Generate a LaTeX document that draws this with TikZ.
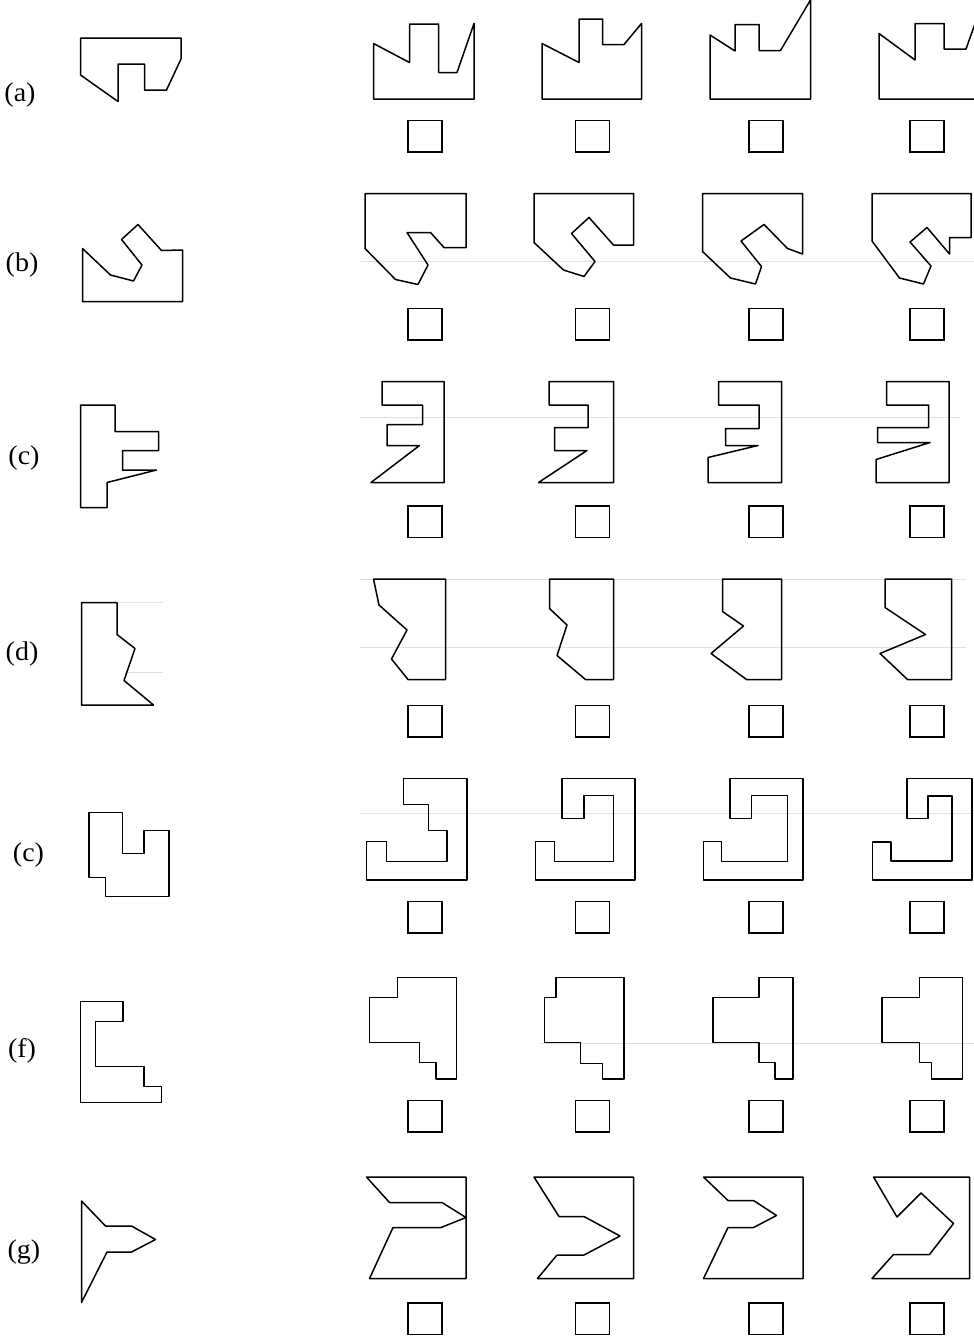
\documentclass[tikz,border=0pt]{standalone}
\usepackage{fontspec}
\usepackage{graphicx}
\setmainfont{Liberation Serif}
\tikzset{
  fig/.style={draw=black, line width=1.5pt, line join=round},
  ansbox/.style={draw=black, line width=1.5pt, minimum width=34pt, minimum height=31.5pt, inner sep=0pt},
  rowlabel/.style={font=\fontsize{25}{25}\selectfont, inner sep=0pt},
  faint/.style={draw=black!12, line width=0.8pt}
}
\newcommand{\lbl}[1]{\scalebox{1.12}[1.08]{#1}}
\begin{document}
\begin{tikzpicture}[x=1pt,y=-1pt]
\useasboundingbox (0,0) rectangle (974,1336);
\clip (0,0) rectangle (974,1336);
\fill[white] (0,0) rectangle (974,1336);
% faint scan lines
\draw[faint] (360,261) -- (974,261);
\draw[faint] (360,417) -- (960,417);
\draw[faint] (360,579) -- (966,579);
\draw[faint] (360,647) -- (966,647);
\draw[faint] (117,602) -- (163,602);
\draw[faint] (125,672) -- (163,672);
\draw[faint] (360,813) -- (974,813);
\draw[faint] (540,1043) -- (974,1043);
% labels
\node[rowlabel] (la) at (20,95.5) {\lbl{(a)}};
\node[rowlabel] (lb) at (22,265.5) {\lbl{(b)}};
\node[rowlabel] (lc) at (24,458) {\lbl{(c)}};
\node[rowlabel] (ld) at (22,654) {\lbl{(d)}};
\node[rowlabel] (le) at (28.5,855) {\lbl{(c)}};
\node[rowlabel] (lf) at (22,1051) {\lbl{(f)}};
\node[rowlabel] (lg) at (24,1252) {\lbl{(g)}};
% ---------- row a
\draw[fig] (80.5,38) -- (181,38) -- (181,59) -- (166.5,90) -- (144.5,90) -- (144.5,64) -- (118,64) -- (118,101.5) -- (80.5,75) -- cycle;
\draw[fig] (373.5,99) -- (474,99) -- (474,23.5) -- (457,72.5) -- (438.5,72.5) -- (438.5,24) -- (409.5,24) -- (409.5,62.5) -- (373.5,43.5) -- cycle;
\draw[fig] (542,99) -- (641.5,99) -- (641.5,23.5) -- (624,44.5) -- (602.5,44.5) -- (602.5,19) -- (579,19) -- (579,62.5) -- (542,43.5) -- cycle;
\draw[fig] (710,99) -- (810.5,99) -- (810.5,0) -- (780.5,50.5) -- (759,50.5) -- (759,24.5) -- (735,24.5) -- (735,51) -- (710,35) -- cycle;
\draw[fig] (879,99) -- (979.5,99) -- (979.5,11) -- (966,49) -- (944,49) -- (944,23.5) -- (915,23.5) -- (915,60) -- (879,33.5) -- cycle;
% ---------- row b
\draw[fig] (82.5,248.5) -- (110.5,275) -- (133.5,281) -- (142,265) -- (121.5,239.5) -- (138,224.5) -- (161.5,250.5) -- (182.5,250) -- (182.5,301.5) -- (82.5,301.5) -- cycle;
\draw[fig] (365,193.5) -- (466,193.5) -- (466,247.5) -- (444,247.5) -- (430.5,232.5) -- (407,232.5) -- (428,265) -- (418,284.5) -- (395.5,279.5) -- (365,248.5) -- cycle;
\draw[fig] (534,193.5) -- (633.5,193.5) -- (633.5,245) -- (613.5,245) -- (589,217.5) -- (571.5,233.5) -- (595,261.5) -- (584,276.5) -- (563.5,270) -- (534,242.5) -- cycle;
\draw[fig] (702.5,193.5) -- (802.5,193.5) -- (802.5,254) -- (787.5,248.5) -- (764,224.5) -- (741,241) -- (761.5,266.5) -- (755.5,284) -- (730.5,278) -- (702.5,251.5) -- cycle;
\draw[fig] (872,193.5) -- (971,193.5) -- (971,237.5) -- (949.5,237.5) -- (949.5,254) -- (927,227.5) -- (910,242) -- (931,266) -- (923.5,284) -- (899.5,278) -- (872,241) -- cycle;
% ---------- row c
\draw[fig] (80.5,405) -- (115,405) -- (115,431.5) -- (158.5,431.5) -- (158.5,450.5) -- (122.5,450.5) -- (122.5,470) -- (156.5,470) -- (107,482.5) -- (107,507.5) -- (80.5,507.5) -- cycle;
\draw[fig] (382,381.5) -- (444,381.5) -- (444,482.5) -- (371,482.5) -- (419.5,445.5) -- (387,445.5) -- (387,424.5) -- (422.5,424.5) -- (422.5,405) -- (382,405) -- cycle;
\draw[fig] (549,381.5) -- (613.5,381.5) -- (613.5,482.5) -- (538.5,482.5) -- (587,450.5) -- (554.5,450.5) -- (554.5,427.5) -- (588,427.5) -- (588,405) -- (549,405) -- cycle;
\draw[fig] (718.5,381.5) -- (781.5,381.5) -- (781.5,482.5) -- (708,482.5) -- (708,457.5) -- (758,445.5) -- (725.5,445.5) -- (725.5,428.5) -- (759,428.5) -- (759,405) -- (718.5,405) -- cycle;
\draw[fig] (886.5,381.5) -- (949,381.5) -- (949,482.5) -- (876,482.5) -- (876,459.5) -- (930,442.5) -- (877.5,442.5) -- (877.5,427.5) -- (928.5,427.5) -- (928.5,405) -- (886.5,405) -- cycle;
% ---------- row d
\draw[fig] (81.5,602.5) -- (117,602.5) -- (117,634.5) -- (135,648.5) -- (124,680.5) -- (153.5,705) -- (81.5,705) -- cycle;
\draw[fig] (373.5,579) -- (445.5,579) -- (445.5,679.5) -- (408,679.5) -- (391.5,659) -- (407,630) -- (379,605) -- cycle;
\draw[fig] (549.5,579) -- (613.5,579) -- (613.5,679.5) -- (585.5,679.5) -- (557,655.5) -- (567,625) -- (549.5,608.5) -- cycle;
\draw[fig] (722.5,579) -- (781.5,579) -- (781.5,679.5) -- (746.5,679.5) -- (711,653.5) -- (743.5,626) -- (722.5,611.5) -- cycle;
\draw[fig] (885,579) -- (951.5,579) -- (951.5,679.5) -- (907.5,679.5) -- (880,653.5) -- (925.5,634.5) -- (885,607.5) -- cycle;
% ---------- row e
\draw[fig] (89,812.5) -- (122.5,812.5) -- (122.5,853.5) -- (144,853.5) -- (144,830.5) -- (169,830.5) -- (169,896.5) -- (105.5,896.5) -- (105.5,877.5) -- (89,877.5) -- cycle;
\draw[fig] (403.5,778.5) -- (467,778.5) -- (467,880) -- (366.5,880) -- (366.5,841.5) -- (386.5,841.5) -- (386.5,861.5) -- (447,861.5) -- (447,830.5) -- (428.5,830.5) -- (428.5,804.5) -- (403.5,804.5) -- cycle;
\draw[fig] (562,778.5) -- (635,778.5) -- (635,880) -- (535.5,880) -- (535.5,841.5) -- (554.5,841.5) -- (554.5,861.5) -- (613.5,861.5) -- (613.5,795.5) -- (584,795.5) -- (584,818.5) -- (562,818.5) -- cycle;
\draw[fig] (730,778.5) -- (803,778.5) -- (803,880) -- (703.5,880) -- (703.5,841.5) -- (721.5,841.5) -- (721.5,861.5) -- (787.5,861.5) -- (787.5,795.5) -- (751.5,795.5) -- (751.5,818.5) -- (730,818.5) -- cycle;
\draw[fig] (907,778.5) -- (972,778.5) -- (972,880) -- (872.5,880) -- (872.5,842) -- (891,842) -- (891,861) -- (952,861) -- (952,796) -- (928,796) -- (928,818.5) -- (907,818.5) -- cycle;
% ---------- row f
\draw[fig] (80.5,1001.5) -- (123,1001.5) -- (123,1021.5) -- (95.5,1021.5) -- (95.5,1066.5) -- (144,1066.5) -- (144,1086.5) -- (161.5,1086.5) -- (161.5,1102.5) -- (80.5,1102.5) -- cycle;
\draw[fig] (397.5,977.5) -- (456.5,977.5) -- (456.5,1079) -- (436,1079) -- (436,1062.5) -- (419.5,1062.5) -- (419.5,1042.5) -- (369.5,1042.5) -- (369.5,997.5) -- (397.5,997.5) -- cycle;
\draw[fig] (556,977.5) -- (624,977.5) -- (624,1079) -- (602.5,1079) -- (602.5,1063.5) -- (580.5,1063.5) -- (580.5,1042.5) -- (544.5,1042.5) -- (544.5,997.5) -- (556,997.5) -- cycle;
\draw[fig] (759,977.5) -- (793,977.5) -- (793,1079) -- (775,1079) -- (775,1062.5) -- (759,1062.5) -- (759,1042.5) -- (713,1042.5) -- (713,997.5) -- (759,997.5) -- cycle;
\draw[fig] (919.5,977.5) -- (962.5,977.5) -- (962.5,1079) -- (931.5,1079) -- (931.5,1062.5) -- (919.5,1062.5) -- (919.5,1042.5) -- (882,1042.5) -- (882,997.5) -- (919.5,997.5) -- cycle;
% ---------- row g
\draw[fig] (81.5,1201) -- (105.5,1226) -- (131.5,1226) -- (155.5,1239.5) -- (131.5,1252) -- (107,1252) -- (81.5,1302.5) -- cycle;
\draw[fig] (366.5,1177) -- (466,1177) -- (466,1278.5) -- (369.5,1278.5) -- (393,1227.5) -- (441,1227.5) -- (466,1217.5) -- (442,1202.5) -- (389.5,1202.5) -- cycle;
\draw[fig] (534,1177) -- (633.5,1177) -- (633.5,1278.5) -- (537.5,1278.5) -- (557,1255) -- (584,1255) -- (620,1236) -- (584,1216.5) -- (559,1216.5) -- cycle;
\draw[fig] (703.5,1177) -- (803,1177) -- (803,1278.5) -- (703.5,1278.5) -- (728,1227.5) -- (753.5,1227.5) -- (776.5,1215.5) -- (753.5,1200.5) -- (728,1200.5) -- cycle;
\draw[fig] (873.5,1177) -- (969.5,1177) -- (969.5,1278.5) -- (872,1278.5) -- (893.5,1254.5) -- (929.5,1254.5) -- (953.5,1223.5) -- (921,1193) -- (897,1217) -- cycle;
% ---------- answer boxes
\foreach \r/\yc in {a/136,b/324,c/521.5,d/721,e/917,f/1116,g/1318.5}{
  \node[ansbox] (box\r1) at (425,\yc) {};
  \node[ansbox] (box\r2) at (592.5,\yc) {};
  \node[ansbox] (box\r3) at (766,\yc) {};
  \node[ansbox] (box\r4) at (927,\yc) {};
}
\end{tikzpicture}
\end{document}
